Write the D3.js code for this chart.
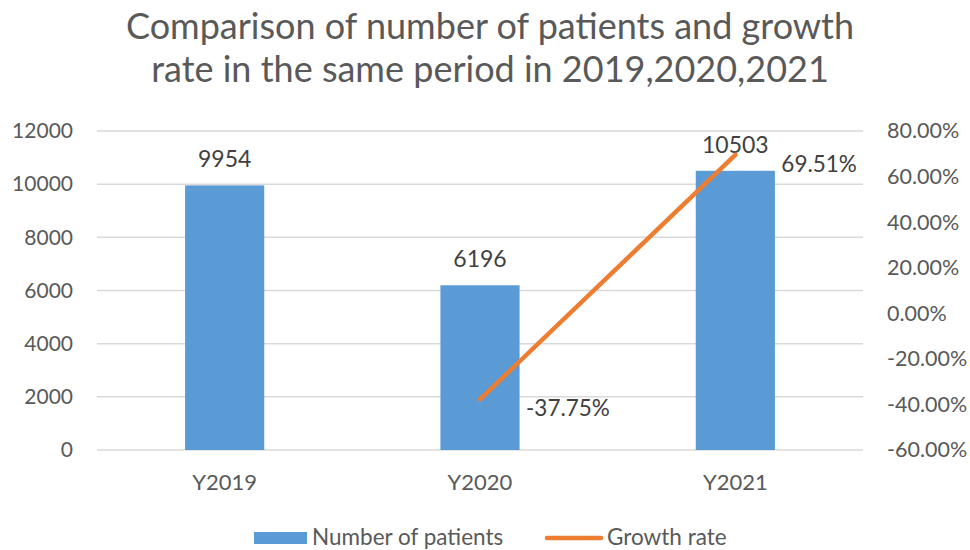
<!DOCTYPE html>
<html>
<head>
<meta charset="utf-8">
<script src="https://cdn.jsdelivr.net/npm/d3@7"></script>
<style>
  body { margin: 0; background: #fff; }
  text { font-family: Lato, "Open Sans", sans-serif; }
</style>
</head>
<body>
<script>
// chart data
const years = ['Y2019', 'Y2020', 'Y2021'];
const patients = [9954, 6196, 10503];
const growth = [null, -37.75, 69.51];
const leftTicks = [0, 2000, 4000, 6000, 8000, 10000, 12000];
const rightTicks = [-60, -40, -20, 0, 20, 40, 60, 80];
const titleLines = ['Comparison of number of patients and growth', 'rate in the same period in 2019,2020,2021'];

let w = 970, h = 550;
let plotLeft = 97, plotRight = 863, plotTop = 131, plotBottom = 450;

let svg = d3.select('body').append('svg')
  .attr('width', w)
  .attr('height', h);

// title
svg.append('g').selectAll('text')
  .data(titleLines)
  .enter()
  .append('text')
  .attr('x', 490)
  .attr('y', (d, i) => 39 + i * 43)
  .attr('text-anchor', 'middle')
  .attr('fill', '#595959')
  .style('font-size', '36px')
  .text(d => d);

let x = d3.scaleBand()
  .domain(years)
  .range([plotLeft, plotRight])
  .paddingInner(0.69)
  .paddingOuter(0.345);

let y = d3.scaleLinear().domain([0, 12000]).range([plotBottom, plotTop]);
let y2 = d3.scaleLinear().domain([-60, 80]).range([plotBottom, plotTop]);

// gridlines
svg.append('g').selectAll('line')
  .data(leftTicks)
  .enter()
  .append('line')
  .attr('x1', plotLeft)
  .attr('x2', plotRight)
  .attr('y1', d => y(d))
  .attr('y2', d => y(d))
  .attr('stroke', '#d9d9d9')
  .attr('stroke-width', 1.5);

// left axis
let yAxis = svg.append('g')
  .attr('transform', `translate(${plotLeft - 24},0)`)
  .call(d3.axisLeft(y).tickValues(leftTicks).tickSize(0).tickPadding(0).tickFormat(d3.format('d')));
yAxis.select('.domain').remove();
yAxis.selectAll('text')
  .attr('fill', '#595959')
  .style('font-size', '21px');

// right axis
let yAxis2 = svg.append('g')
  .attr('transform', `translate(${plotRight + 24},0)`)
  .call(d3.axisRight(y2).tickValues(rightTicks).tickSize(0).tickPadding(0)
    .tickFormat(d => d.toFixed(2) + '%'));
yAxis2.select('.domain').remove();
yAxis2.selectAll('text')
  .attr('fill', '#595959')
  .style('font-size', '21.5px');

// bottom axis labels
let xAxis = svg.append('g')
  .attr('transform', `translate(0,${plotBottom})`)
  .call(d3.axisBottom(x).tickSize(0).tickPadding(24));
xAxis.select('.domain').remove();
xAxis.selectAll('text')
  .attr('fill', '#595959')
  .style('font-size', '22px');

// bars
svg.append('g').selectAll('rect')
  .data(patients)
  .enter()
  .append('rect')
  .attr('x', (d, i) => x(years[i]))
  .attr('y', d => y(d))
  .attr('width', x.bandwidth())
  .attr('height', d => plotBottom - y(d))
  .attr('fill', '#5b9bd5');

svg.append('g').selectAll('text')
  .data(patients)
  .enter()
  .append('text')
  .attr('x', (d, i) => x(years[i]) + x.bandwidth() / 2)
  .attr('y', d => y(d) - 18)
  .attr('text-anchor', 'middle')
  .attr('fill', '#404040')
  .style('font-size', '23px')
  .text(d => d);

// growth line
let pts = growth.map((g, i) => ({ year: years[i], g: g })).filter(d => d.g !== null);

let line = d3.line()
  .x(d => x(d.year) + x.bandwidth() / 2)
  .y(d => y2(d.g));

svg.append('path')
  .datum(pts)
  .attr('d', line)
  .attr('fill', 'none')
  .attr('stroke', '#ed7d31')
  .attr('stroke-width', 4.5)
  .attr('stroke-linecap', 'round');

svg.append('g').selectAll('text')
  .data(pts)
  .enter()
  .append('text')
  .attr('x', d => x(d.year) + x.bandwidth() / 2 + 46)
  .attr('y', d => y2(d.g) + 17)
  .attr('fill', '#404040')
  .style('font-size', '22.5px')
  .text(d => d.g.toFixed(2) + '%');

// legend
let legend = svg.append('g');
legend.append('rect')
  .attr('x', 254).attr('y', 532)
  .attr('width', 53).attr('height', 12)
  .attr('fill', '#5b9bd5');
legend.append('text')
  .attr('x', 312).attr('y', 545)
  .attr('fill', '#595959')
  .style('font-size', '22.5px')
  .text('Number of patients');
legend.append('line')
  .attr('x1', 547).attr('x2', 601)
  .attr('y1', 538).attr('y2', 538)
  .attr('stroke', '#ed7d31')
  .attr('stroke-width', 4.5)
  .attr('stroke-linecap', 'round');
legend.append('text')
  .attr('x', 607).attr('y', 545)
  .attr('fill', '#595959')
  .style('font-size', '22.5px')
  .text('Growth rate');
</script>
</body>
</html>
